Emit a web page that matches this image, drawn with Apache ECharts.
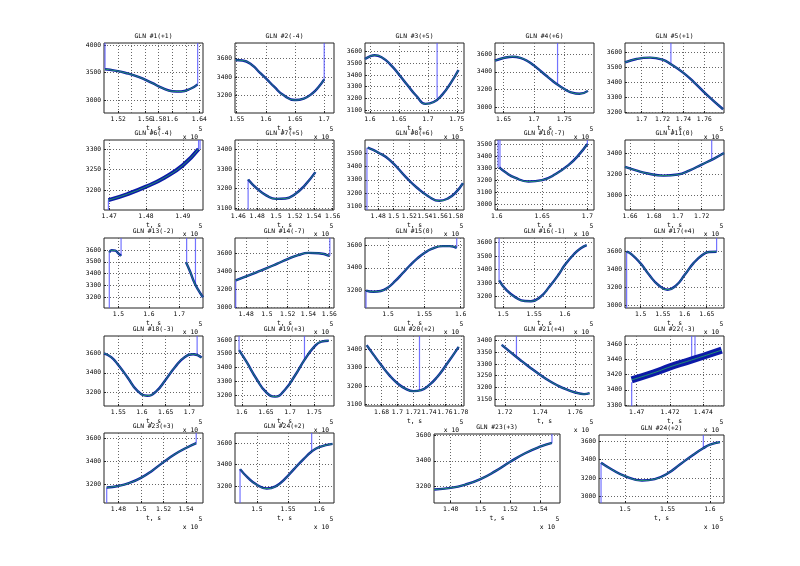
<!DOCTYPE html>
<html>
<head>
<meta charset="utf-8">
<title>GLN</title>
<script src="https://cdn.jsdelivr.net/npm/echarts@6/dist/echarts.min.js"></script>
<style>
html, body { margin: 0; background: #fff; }
#main { width: 800px; height: 566px; }
</style>
</head>
<body>
<div id="main"></div>
<script>
// x values are t / 1e5 (s), y values as plotted

var titles = ['GLN #1(+1)', 'GLN #2(-4)', 'GLN #3(+5)', 'GLN #4(+6)', 'GLN #5(+1)',
  'GLN #6(-4)', 'GLN #7(+5)', 'GLN #8(+6)', 'GLN #10(-7)', 'GLN #11(0)',
  'GLN #13(-2)', 'GLN #14(-7)', 'GLN #15(0)', 'GLN #16(-1)', 'GLN #17(+4)',
  'GLN #18(-3)', 'GLN #19(+3)', 'GLN #20(+2)', 'GLN #21(+4)', 'GLN #22(-3)',
  'GLN #23(+3)', 'GLN #24(+2)', 'GLN #23(+3)', 'GLN #24(+2)'];

var xLims = [[1.499, 1.6455], [1.547, 1.7168], [1.5914, 1.7625], [1.636, 1.799], [1.684, 1.7789],
  [1.4686, 1.4955], [1.4565, 1.5614], [1.463, 1.5906], [1.598, 1.7073], [1.6558, 1.7387],
  [1.453, 1.7777], [1.4693, 1.5646], [1.4683, 1.6045], [1.4867, 1.647], [1.4643, 1.6893],
  [1.5198, 1.7289], [1.586, 1.7912], [1.6591, 1.7841], [1.7144, 1.7707], [1.4693, 1.47524],
  [1.4673, 1.555], [1.4648, 1.6239], [1.4688, 1.5534], [1.4694, 1.6165]];

var yLims = [[2764, 4036], [3012, 3767], [3074, 3675], [2936, 3724], [3193, 3662],
  [3151, 3322], [3091, 3450], [3073, 3599], [2951, 3533], [2856, 3525],
  [3109, 3702], [2997, 3767], [3048, 3661], [3117, 3632], [2967, 3744],
  [3060, 3777], [3120, 3629], [3091, 3473], [3120, 3420], [3378.7, 3470.5],
  [3037, 3645], [3040, 3695], [3065, 3613], [2932, 3665]];

var xTicks = [[1.52, 1.54, 1.56, 1.58, 1.6, 1.62, 1.64], [1.55, 1.6, 1.65, 1.7], [1.6, 1.65, 1.7, 1.75],
  [1.65, 1.7, 1.75], [1.7, 1.72, 1.74, 1.76],
  [1.47, 1.48, 1.49], [1.46, 1.48, 1.5, 1.52, 1.54, 1.56], [1.48, 1.5, 1.52, 1.54, 1.56, 1.58],
  [1.6, 1.65, 1.7], [1.66, 1.68, 1.7, 1.72],
  [1.5, 1.6, 1.7], [1.48, 1.5, 1.52, 1.54, 1.56], [1.5, 1.55, 1.6], [1.5, 1.55, 1.6], [1.5, 1.55, 1.6, 1.65],
  [1.55, 1.6, 1.65, 1.7], [1.6, 1.65, 1.7, 1.75], [1.68, 1.7, 1.72, 1.74, 1.76, 1.78],
  [1.72, 1.74, 1.76], [1.47, 1.472, 1.474],
  [1.48, 1.5, 1.52, 1.54], [1.5, 1.55, 1.6], [1.48, 1.5, 1.52, 1.54], [1.5, 1.55, 1.6]];

var yTicks = [[3000, 3500, 4000], [3200, 3400, 3600], [3100, 3200, 3300, 3400, 3500, 3600],
  [3000, 3200, 3400, 3600], [3200, 3300, 3400, 3500, 3600],
  [3200, 3250, 3300], [3100, 3200, 3300, 3400], [3100, 3200, 3300, 3400, 3500],
  [3000, 3100, 3200, 3300, 3400, 3500], [3000, 3200, 3400],
  [3200, 3300, 3400, 3500, 3600], [3000, 3200, 3400, 3600], [3200, 3400, 3600],
  [3200, 3300, 3400, 3500, 3600], [3000, 3200, 3400, 3600],
  [3200, 3400, 3600], [3200, 3300, 3400, 3500, 3600], [3100, 3200, 3300, 3400],
  [3150, 3200, 3250, 3300, 3350, 3400], [3380, 3400, 3420, 3440, 3460],
  [3200, 3400, 3600], [3200, 3400, 3600], [3200, 3400, 3600], [3000, 3200, 3400, 3600]];

// fitted curves [t, value]
var curve1 = [[1.5005, 3560], [1.515, 3535], [1.53, 3495], [1.55, 3420], [1.57, 3310], [1.585, 3220], [1.6, 3160], [1.613, 3155], [1.627, 3205], [1.6376, 3285]];
var curve2 = [[1.548, 3583], [1.56, 3578], [1.575, 3535], [1.59, 3445], [1.6, 3385], [1.615, 3290], [1.63, 3205], [1.65, 3152], [1.665, 3168], [1.68, 3225], [1.69, 3290], [1.7, 3375]];
var curve3 = [[1.5914, 3537], [1.6, 3560], [1.608, 3570], [1.62, 3553], [1.635, 3492], [1.65, 3405], [1.665, 3312], [1.68, 3222], [1.696, 3152], [1.71, 3168], [1.725, 3232], [1.74, 3335], [1.753, 3443]];
var curve4 = [[1.636, 3525], [1.65, 3555], [1.665, 3570], [1.68, 3552], [1.69, 3518], [1.7, 3472], [1.71, 3415], [1.72, 3358], [1.73, 3302], [1.74, 3250], [1.75, 3207], [1.76, 3172], [1.775, 3152], [1.789, 3185]];
var curve5 = [[1.684, 3532], [1.695, 3555], [1.708, 3564], [1.72, 3550], [1.728, 3520], [1.74, 3462], [1.75, 3400], [1.762, 3318], [1.778, 3218]];
var curve6 = [[1.4698, 3175], [1.475, 3190], [1.48, 3208], [1.485, 3230], [1.49, 3260], [1.4943, 3300]];
var curve7 = [[1.4704, 3248], [1.48, 3200], [1.49, 3165], [1.5, 3148], [1.51, 3150], [1.52, 3172], [1.53, 3215], [1.5417, 3285]];
var curve8 = [[1.4664, 3541], [1.48, 3505], [1.495, 3448], [1.516, 3318], [1.53, 3240], [1.545, 3175], [1.559, 3142], [1.57, 3160], [1.58, 3205], [1.5893, 3275]];
var curve9 = [[1.6027, 3305], [1.61, 3262], [1.62, 3220], [1.635, 3188], [1.65, 3200], [1.665, 3250], [1.68, 3330], [1.69, 3405], [1.7, 3500]];
var curve10 = [[1.6558, 3268], [1.665, 3235], [1.675, 3205], [1.688, 3185], [1.7, 3195], [1.71, 3235], [1.72, 3290], [1.73, 3345], [1.7387, 3400]];
var curve11a = [[1.4704, 3580], [1.478, 3598], [1.49, 3595], [1.5, 3572], [1.509, 3550]];
var curve11b = [[1.722, 3497], [1.735, 3420], [1.75, 3320], [1.765, 3250], [1.7777, 3200]];
var curve12 = [[1.47, 3300], [1.48, 3345], [1.49, 3390], [1.5, 3435], [1.51, 3485], [1.52, 3535], [1.53, 3578], [1.54, 3603], [1.55, 3600], [1.56, 3570]];
var curve13 = [[1.4697, 3200], [1.48, 3190], [1.49, 3197], [1.5, 3228], [1.51, 3285], [1.52, 3352], [1.53, 3420], [1.54, 3480], [1.55, 3530], [1.56, 3565], [1.575, 3590], [1.585, 3590], [1.5945, 3575]];
var curve14 = [[1.4933, 3320], [1.505, 3250], [1.52, 3195], [1.535, 3168], [1.545, 3167], [1.56, 3198], [1.575, 3275], [1.59, 3365], [1.6, 3435], [1.615, 3515], [1.625, 3555], [1.6352, 3580]];
var curve15 = [[1.468, 3592], [1.48, 3560], [1.5, 3460], [1.52, 3330], [1.54, 3222], [1.561, 3170], [1.58, 3215], [1.6, 3335], [1.62, 3465], [1.64, 3555], [1.655, 3588], [1.6725, 3592]];
var curve16 = [[1.5198, 3600], [1.535, 3560], [1.55, 3480], [1.57, 3350], [1.59, 3218], [1.611, 3165], [1.63, 3210], [1.65, 3330], [1.67, 3460], [1.69, 3560], [1.7085, 3590], [1.726, 3555]];
var curve17 = [[1.5944, 3526], [1.61, 3440], [1.63, 3320], [1.65, 3222], [1.669, 3188], [1.69, 3240], [1.71, 3340], [1.73, 3455], [1.75, 3550], [1.765, 3588], [1.7802, 3595]];
var curve18 = [[1.6612, 3423], [1.67, 3370], [1.68, 3312], [1.69, 3258], [1.7, 3215], [1.71, 3186], [1.72, 3172], [1.73, 3178], [1.74, 3205], [1.75, 3248], [1.76, 3305], [1.7774, 3414]];
var curve19 = [[1.7182, 3382], [1.7266, 3330], [1.73, 3310], [1.735, 3281], [1.74, 3254], [1.745, 3229], [1.75, 3208], [1.755, 3191], [1.76, 3178], [1.765, 3171], [1.7682, 3175]];
var curve20 = [[1.4697, 3413], [1.471, 3422], [1.472, 3430], [1.473, 3437], [1.474, 3444], [1.4751, 3452]];
var curve21 = [[1.4697, 3172], [1.48, 3185], [1.49, 3212], [1.5, 3255], [1.51, 3318], [1.52, 3392], [1.53, 3460], [1.54, 3515], [1.549, 3557]];
var curve22 = [[1.4729, 3357], [1.485, 3280], [1.5, 3210], [1.5157, 3175], [1.53, 3195], [1.545, 3265], [1.56, 3360], [1.575, 3450], [1.588, 3522], [1.6, 3562], [1.6216, 3593]];
var curve23 = [[1.469, 3172], [1.48, 3185], [1.49, 3212], [1.5, 3255], [1.51, 3318], [1.52, 3392], [1.53, 3460], [1.54, 3512], [1.548, 3542]];
var curve24 = [[1.4718, 3365], [1.485, 3290], [1.5, 3222], [1.52, 3175], [1.535, 3190], [1.55, 3250], [1.565, 3350], [1.58, 3450], [1.592, 3522], [1.6, 3560], [1.6118, 3588]];

// vertical jumps [t, from, to]; 'top' / 'bottom' = edge of the axes
var marks1 = [[1.5005, 3560, 'top'], [1.6376, 3285, 'top']];
var marks2 = [[1.7, 3375, 'top']];
var marks3 = [[1.716, 3205, 'top']];
var marks4 = [[1.739, 3252, 'top']];
var marks5 = [[1.728, 3520, 'top']];
var marks6 = [[1.4698, 'bottom', 3175], [1.4943, 3300, 'top'], [1.4947, 3300, 'top']];
var marks7 = [[1.4704, 'bottom', 3248]];
var marks8 = [[1.4655, 'bottom', 3541]];
var marks9 = [[1.6015, 3305, 'top'], [1.6035, 3305, 'top'], [1.7, 3500, 'top']];
var marks10 = [[1.7284, 3335, 'top']];
var marks11 = [[1.4704, 'bottom', 3580], [1.509, 3550, 'top'], [1.724, 3495, 'top'], [1.753, 3305, 'top']];
var marks12 = [[1.47, 'bottom', 3300], [1.5606, 3570, 'top']];
var marks13 = [[1.4697, 'bottom', 3200], [1.5945, 3575, 'top']];
var marks14 = [[1.4933, 3320, 'top']];
var marks15 = [[1.468, 'bottom', 3592], [1.6725, 3592, 'top']];
var marks16 = [[1.7165, 3585, 'top']];
var marks17 = [[1.5944, 3526, 'top'], [1.73, 3455, 'top']];
var marks18 = [[1.7279, 3178, 'top']];
var marks19 = [[1.7266, 3330, 'top']];
var marks20 = [[1.4697, 'bottom', 3410], [1.4733, 3440, 'top'], [1.4735, 3440, 'top']];
var marks21 = [[1.4697, 'bottom', 3172], [1.549, 3557, 'top']];
var marks22 = [[1.4729, 'bottom', 3357], [1.588, 3522, 'top']];
var marks23 = [[1.548, 3542, 'top']];
var marks24 = [[1.4718, 'bottom', 3365], [1.5922, 3522, 'top']];

var curves = [[curve1], [curve2], [curve3], [curve4], [curve5], [curve6], [curve7], [curve8], [curve9], [curve10],
  [curve11a, curve11b], [curve12], [curve13], [curve14], [curve15], [curve16], [curve17], [curve18], [curve19], [curve20],
  [curve21], [curve22], [curve23], [curve24]];
var marks = [marks1, marks2, marks3, marks4, marks5, marks6, marks7, marks8, marks9, marks10, marks11, marks12,
  marks13, marks14, marks15, marks16, marks17, marks18, marks19, marks20, marks21, marks22, marks23, marks24];

var FONT = '"DejaVu Sans Mono", monospace';
var FS = 6.3;
var colLeft = [104, 235, 365, 495, 625];
var rowTop = [43, 140, 238, 336, 433];

function box(i) {
	if (i < 22) return { left: colLeft[i % 5], top: rowTop[Math.floor(i / 5)], width: 99, height: 70 };
	if (i === 22) return { left: 434, top: 434, width: 126, height: 69 };
	return { left: 599, top: 435, width: 125, height: 68 };
}

function fmt(v) {
	return String(parseFloat(v.toFixed(4)));
}

function txt(x, y, s, align) {
	return {
		type: 'text', x: x, y: y, silent: true,
		style: { text: s, fill: '#000', fontSize: FS, fontFamily: FONT, align: align || 'center', verticalAlign: 'middle' }
	};
}

var option = { animation: false, backgroundColor: '#fff', grid: [], xAxis: [], yAxis: [], series: [], graphic: [] };

titles.forEach(function (t, i) {
	var b = box(i);
	var right = b.left + b.width, bottom = b.top + b.height;
	option.grid.push({ left: b.left, top: b.top, width: b.width, height: b.height,
		show: true, borderColor: '#222', borderWidth: 1, backgroundColor: '#fff' });
	option.xAxis.push({
		type: 'value', gridIndex: i, min: xLims[i][0], max: xLims[i][1],
		name: 't, s', nameLocation: 'middle', nameGap: 12,
		nameTextStyle: { fontFamily: FONT, fontSize: FS, color: '#000' },
		axisLine: { show: false },
		axisTick: { inside: true, length: 2, lineStyle: { color: '#222' }, customValues: xTicks[i] },
		axisLabel: { customValues: xTicks[i], interval: 0, margin: 3, fontFamily: FONT, fontSize: FS, color: '#000',
			formatter: fmt, showMinLabel: true, showMaxLabel: true, hideOverlap: false },
		splitLine: { show: true, lineStyle: { color: '#666', width: 1, type: [1, 2] } }
	});
	option.yAxis.push({
		type: 'value', gridIndex: i, min: yLims[i][0], max: yLims[i][1],
		axisLine: { show: false },
		axisTick: { inside: true, length: 2, lineStyle: { color: '#222' }, customValues: yTicks[i] },
		axisLabel: { customValues: yTicks[i], interval: 0, margin: 3, fontFamily: FONT, fontSize: FS, color: '#000',
			formatter: fmt, showMinLabel: true, showMaxLabel: true, hideOverlap: false },
		splitLine: { show: true, lineStyle: { color: '#666', width: 1, type: [1, 2] } }
	});

	// vertical jumps
	marks[i].forEach(function (m) {
		var y0 = m[1] === 'bottom' ? yLims[i][0] : m[1];
		var y1 = m[2] === 'top' ? yLims[i][1] : m[2];
		option.series.push({
			type: 'line', xAxisIndex: i, yAxisIndex: i, symbol: 'none', silent: true, z: 2,
			lineStyle: { color: '#5a5aff', width: 1.2, opacity: 0.85 },
			data: [[m[0], y0], [m[0], y1]]
		});
	});

	var lw = i === 5 ? 4 : (i === 19 ? 7 : 2.4);
	curves[i].forEach(function (seg) {
		option.series.push({
			type: 'line', xAxisIndex: i, yAxisIndex: i, symbol: 'none', silent: true, z: 3,
			smooth: 0.5,
			lineStyle: { color: '#0c1aa8', width: lw },
			data: seg
		});
		option.series.push({
			type: 'line', xAxisIndex: i, yAxisIndex: i, symbol: 'none', silent: true, z: 4,
			smooth: 0.5,
			lineStyle: { color: '#2fd84a', width: 0.8, opacity: 0.8 },
			data: seg
		});
	});

	option.graphic.push(txt(b.left + b.width / 2, b.top - 7, t));
	option.graphic.push(txt(right - 5, bottom + 24, 'x 10', 'right'));
	option.graphic.push(txt(right - 2.5, bottom + 16, '5'));
});

var chart = echarts.init(document.getElementById('main'));
chart.setOption(option);
</script>
</body>
</html>
